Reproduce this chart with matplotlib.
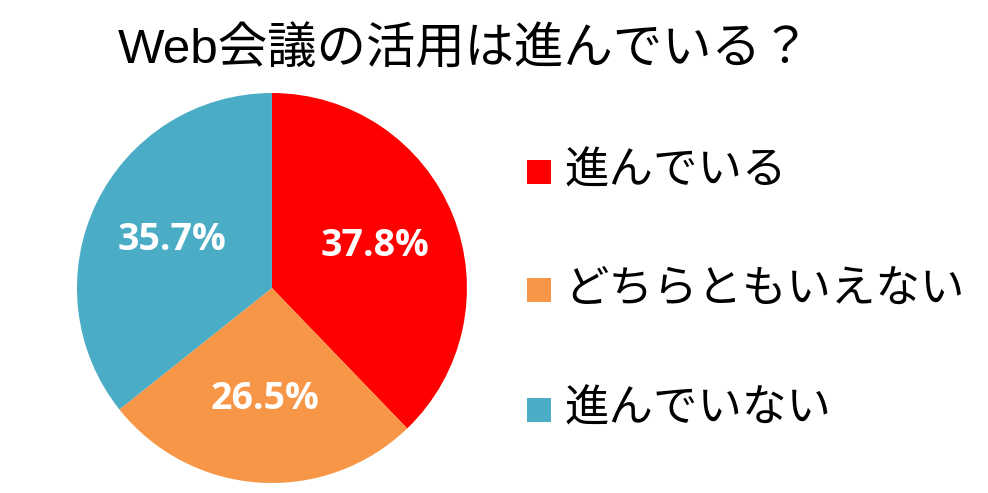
import matplotlib
matplotlib.use('Agg')
import matplotlib.pyplot as plt
from matplotlib.patches import Rectangle

plt.rcParams['font.family'] = ['Liberation Sans', 'Noto Sans CJK JP', 'DejaVu Sans']

title = 'Web会議の活用は進んでいる？'
labels = ['進んでいる', 'どちらともいえない', '進んでいない']
values = [37.8, 26.5, 35.7]
colors = ['#FF0000', '#F79646', '#4BACC6']

fig = plt.figure(figsize=(9.88, 4.93), dpi=100)
fig.patch.set_facecolor('white')

# pie area
ax = fig.add_axes([0.0779, 0.0203, 0.3947, 0.791])
wedges, texts, autotexts = ax.pie(values, colors=colors, startangle=90, counterclock=False,
                                  autopct='%.1f%%', pctdistance=0.57,
                                  wedgeprops={'linewidth': 0})
for t in autotexts:
    t.set_color('white')
    t.set_fontsize(27)
    t.set_fontweight('bold')
    t.set_family(['Open Sans', 'DejaVu Sans'])
ax.set_xlim(-1, 1)
ax.set_ylim(-1, 1)
ax.set_aspect('equal')
ax.axis('off')

fig.text(0.119, 0.898, title, fontsize=35.6, va='center', ha='left')

# legend drawn by hand
ys = [172, 290, 410]
for lab, c, y in zip(labels, colors, ys):
    fy = 1 - y / 493
    fig.patches.append(Rectangle((527 / 988, fy - 12 / 493), 24 / 988, 24 / 493,
                                 transform=fig.transFigure, facecolor=c, edgecolor='none'))
    fig.text(564 / 988, fy, lab, fontsize=32, va='center', ha='left')

fig.savefig('out.png', dpi=100, facecolor='white')
